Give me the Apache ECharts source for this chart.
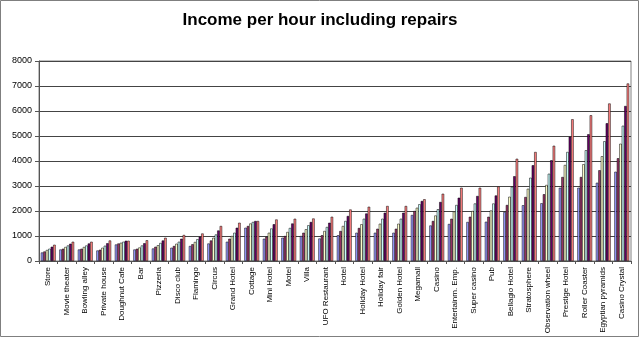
<!DOCTYPE html>
<html>
<head>
<meta charset="utf-8">
<script src="https://cdn.jsdelivr.net/npm/echarts@6/dist/echarts.min.js"></script>
<style>
  html, body { margin: 0; padding: 0; background: #fff; }
  #chart { width: 640px; height: 338px; }
</style>
</head>
<body>
<div id="chart"></div>
<script>
// Buildings, cheapest to most expensive
const categories = [
  'Store', 'Movie theater', 'Bowling alley', 'Private house', 'Doughnut Cafe', 'Bar',
  'Pizzeria', 'Disco club', 'Flamingo', 'Circus', 'Grand Hotel', 'Cottage',
  'Mini Hotel', 'Motel', 'Villa', 'UFO Restaurant', 'Hotel', 'Holiday Hotel',
  'Holiday fair', 'Golden Hotel', 'Megamall', 'Casino', 'Entertainm. Emp.',
  'Super casino', 'Pub', 'Bellagio Hotel', 'Stratosphere', 'Observation wheel',
  'Prestige Hotel', 'Roller Coaster', 'Egyptian pyramids', 'Casino Crystal'
];

// Income per hour for each upgrade level
const level1 = [340, 460, 460, 420, 660, 460, 500, 530, 600, 700, 770, 1330, 890, 930, 1000, 900,
  1030, 1130, 1130, 1130, 1840, 1420, 1480, 1560, 1570, 1960, 2230, 2310, 2930, 2930, 3130, 3570];
const level2 = [380, 490, 490, 450, 700, 490, 570, 600, 670, 820, 890, 1400, 970, 1000, 1130, 1030,
  1200, 1320, 1290, 1290, 2000, 1600, 1690, 1770, 1770, 2240, 2560, 2670, 3360, 3360, 3630, 4110];
const level3 = [440, 560, 560, 530, 730, 540, 630, 690, 760, 930, 1000, 1500, 1130, 1160, 1270, 1200,
  1400, 1470, 1490, 1490, 2130, 1820, 1980, 2000, 2020, 2570, 2890, 3040, 3840, 3870, 4190, 4690];
const level4 = [490, 620, 620, 610, 770, 620, 720, 770, 870, 1060, 1130, 1560, 1300, 1320, 1430, 1360,
  1600, 1690, 1690, 1690, 2270, 2070, 2240, 2300, 2300, 2970, 3330, 3490, 4360, 4430, 4790, 5410];
const level5 = [570, 690, 700, 710, 810, 710, 820, 890, 970, 1220, 1330, 1600, 1470, 1500, 1560, 1530,
  1800, 1900, 1930, 1930, 2400, 2360, 2530, 2600, 2620, 3390, 3830, 4030, 4970, 5070, 5510, 6200];
const level6 = [650, 770, 770, 820, 810, 830, 930, 1040, 1100, 1400, 1530, 1600, 1660, 1690, 1700, 1770,
  2060, 2170, 2200, 2200, 2470, 2690, 2930, 2930, 2980, 4090, 4360, 4610, 5670, 5830, 6300, 7100];

const yTicks = { min: 0, max: 8000, step: 1000 };

const seriesData = [level1, level2, level3, level4, level5, level6];
const seriesNames = ['Level 1', 'Level 2', 'Level 3', 'Level 4', 'Level 5', 'Level 6'];
const palette = ['#9999FF', '#993366', '#FFFFCC', '#CCFFFF', '#660066', '#FF8080'];

const FONT = '"Liberation Sans", Arial, sans-serif';

const chart = echarts.init(document.getElementById('chart'), null, { renderer: 'canvas' });

chart.setOption({
  animation: false,
  backgroundColor: '#ffffff',
  title: {
    text: 'Income per hour including repairs',
    left: 'center',
    top: 12,
    padding: 0,
    textStyle: { fontFamily: FONT, fontSize: 17, fontWeight: 'bold', color: '#000' }
  },
  grid: {
    left: 39, right: 9, top: 61, height: 200,
    show: true, borderColor: '#808080', borderWidth: 1, backgroundColor: '#fff',
    containLabel: false
  },
  xAxis: {
    type: 'category',
    data: categories,
    boundaryGap: true,
    axisLine: { show: true, lineStyle: { color: '#555', width: 1 } },
    axisTick: { show: true, interval: 0, length: 3, lineStyle: { color: '#555' } },
    axisLabel: {
      interval: 0, rotate: 90, margin: 6,
      fontFamily: FONT, fontSize: 8, color: '#000'
    },
    splitLine: { show: false }
  },
  yAxis: {
    type: 'value',
    min: yTicks.min, max: yTicks.max, interval: yTicks.step,
    axisLine: { show: true, lineStyle: { color: '#555', width: 1 } },
    axisTick: { show: true, length: 4, lineStyle: { color: '#555' } },
    axisLabel: {
      margin: 7, fontFamily: FONT, fontSize: 9, color: '#000',
      formatter: (v) => String(v)
    },
    splitLine: { show: true, lineStyle: { color: '#444', width: 1 } }
  },
  series: seriesData.map((d, i) => ({
    name: seriesNames[i],
    type: 'bar',
    data: d,
    barGap: '0%',
    barCategoryGap: '20%',
    itemStyle: { color: palette[i], borderColor: '#000', borderWidth: 0.5 }
  })),
  graphic: [{
    type: 'rect',
    shape: { x: 0.5, y: 0.5, width: 638, height: 336 },
    style: { fill: 'none', stroke: '#7f7f7f', lineWidth: 1 },
    silent: true,
    z: 100
  }]
});
</script>
</body>
</html>
